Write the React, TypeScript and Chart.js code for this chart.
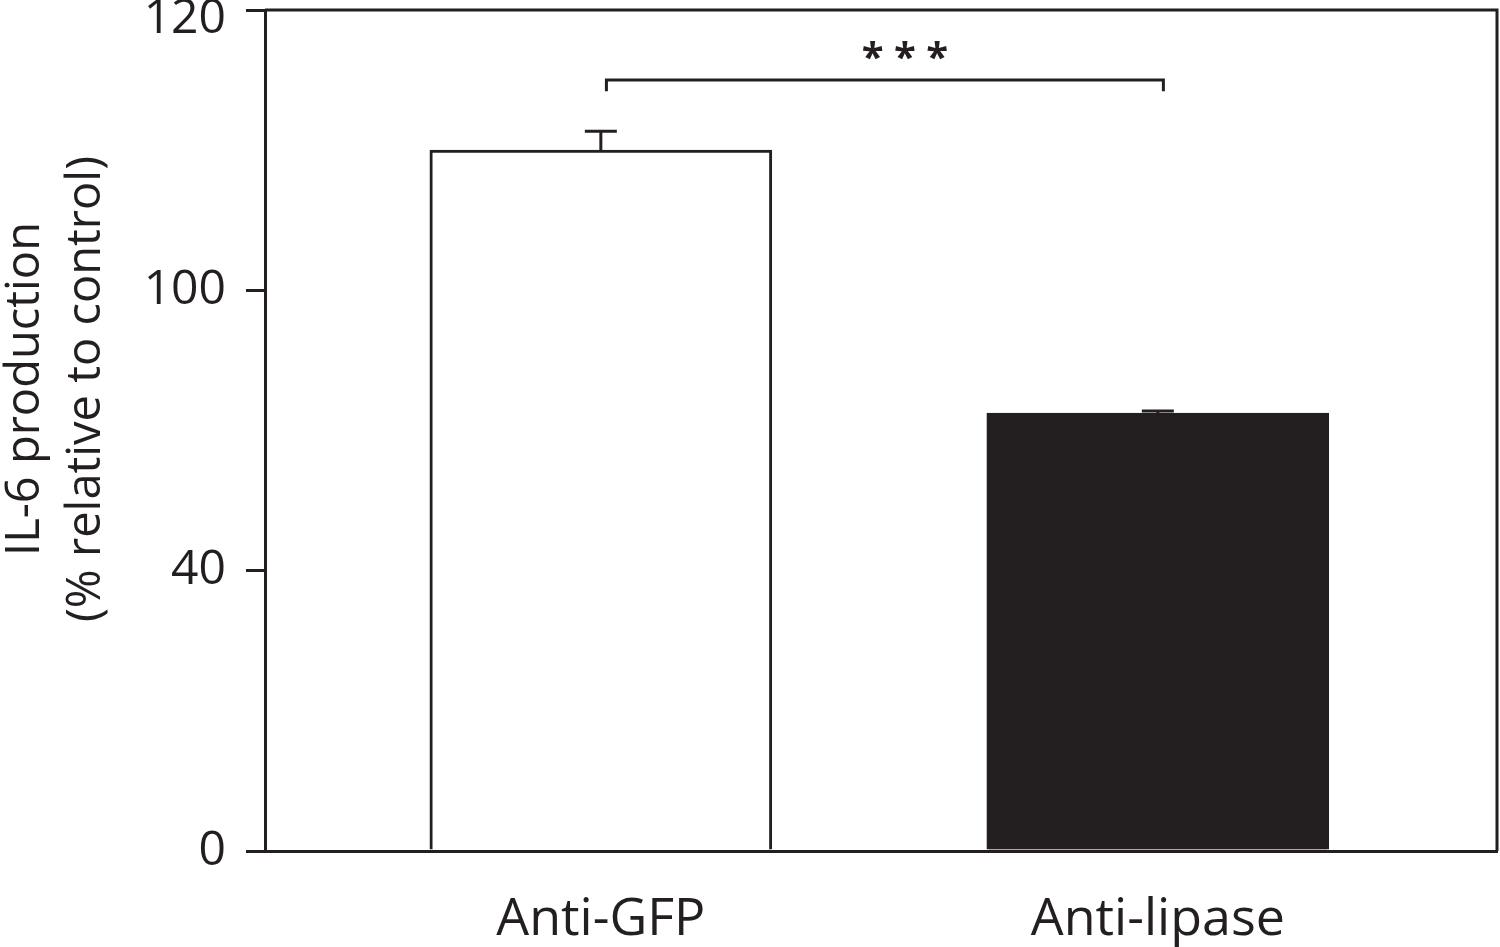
import React, { useEffect, useRef } from "react";
import { Chart, registerables } from "chart.js";

Chart.register(...registerables);

// ---- data ----
const CATEGORIES = ["Anti-GFP", "Anti-lipase"];
const CATEGORY_X = [0, 1];
const VALUES = [100, 62.5];
const ERRORS = [2.7, 0.3];
const Y_TICK_VALUES = [0, 40, 80, 120];
const Y_TICK_LABELS = ["0", "40", "100", "120"];
const Y_TITLE = ["IL-6 production", "(% relative to control)"];
const BRACKET_X = [0.01, 1.01];
const BRACKET_Y = [108.4, 110];
const STAR_X = 0.546;
const STAR_Y = 113.8;
const STAR_TEXT = "* * *";

const INK = "#231f20";
const FONT = "'Open Sans', 'DejaVu Sans', sans-serif";

const errorBarPlugin = {
  id: "errorBars",
  afterDatasetsDraw(chart: any) {
    const ctx = chart.ctx;
    const y = chart.scales.y;
    const meta = chart.getDatasetMeta(0);
    ctx.save();
    ctx.strokeStyle = INK;
    ctx.lineWidth = 3;
    meta.data.forEach((el: any, i: number) => {
      const top = y.getPixelForValue(VALUES[i] + ERRORS[i]);
      const base = y.getPixelForValue(VALUES[i]);
      ctx.beginPath();
      ctx.moveTo(el.x, base);
      ctx.lineTo(el.x, top);
      ctx.moveTo(el.x - 16, top);
      ctx.lineTo(el.x + 16, top);
      ctx.stroke();
    });
    ctx.restore();
  },
};

const annotationPlugin = {
  id: "annot",
  afterDraw(chart: any) {
    const ctx = chart.ctx;
    const xs = chart.scales.x;
    const ys = chart.scales.y;
    const a = chart.chartArea;
    ctx.save();
    ctx.strokeStyle = INK;
    ctx.lineWidth = 3;
    ctx.beginPath();
    ctx.moveTo(a.left, a.top);
    ctx.lineTo(a.right, a.top);
    ctx.lineTo(a.right, a.bottom);
    ctx.stroke();
    const x1 = xs.getPixelForValue(BRACKET_X[0]);
    const x2 = xs.getPixelForValue(BRACKET_X[1]);
    const yLow = ys.getPixelForValue(BRACKET_Y[0]);
    const yHigh = ys.getPixelForValue(BRACKET_Y[1]);
    ctx.beginPath();
    ctx.moveTo(x1, yLow);
    ctx.lineTo(x1, yHigh);
    ctx.lineTo(x2, yHigh);
    ctx.lineTo(x2, yLow);
    ctx.stroke();
    ctx.fillStyle = INK;
    ctx.font = `bold 40px ${FONT}`;
    ctx.textAlign = "center";
    ctx.textBaseline = "middle";
    ctx.fillText(STAR_TEXT, xs.getPixelForValue(STAR_X), ys.getPixelForValue(STAR_Y) + 6);
    ctx.font = `47px ${FONT}`;
    ctx.translate(0, 389);
    ctx.rotate(-Math.PI / 2);
    ctx.fillText(Y_TITLE[0], 0, 26);
    ctx.fillText(Y_TITLE[1], 0, 87);
    ctx.restore();
  },
};

export default function App() {
  const ref = useRef<HTMLCanvasElement>(null);
  useEffect(() => {
    document.body.style.margin = "0";
    const topTick = Y_TICK_VALUES[Y_TICK_VALUES.length - 1];
    const chart = new Chart(ref.current!, {
      type: "bar",
      data: {
        datasets: [
          {
            data: CATEGORY_X.map((x, i) => ({ x, y: VALUES[i] })),
            backgroundColor: ["#ffffff", INK],
            borderColor: INK,
            borderWidth: 3,
            borderSkipped: "bottom",
            barThickness: 342,
          },
        ],
      },
      options: {
        animation: false,
        responsive: true,
        maintainAspectRatio: false,
        layout: { padding: { top: 10, right: 3, left: 0, bottom: 0 } },
        plugins: { legend: { display: false }, tooltip: { enabled: false } },
        scales: {
          x: {
            type: "linear",
            offset: false,
            min: -0.603,
            max: 1.609,
            afterBuildTicks: (s: any) => {
              s.ticks = CATEGORY_X.map((v) => ({ value: v }));
            },
            afterFit: (s: any) => {
              s.height = 96;
              s.paddingLeft = 0;
              s.paddingRight = 0;
            },
            grid: { display: false, drawTicks: false },
            border: { display: true, color: INK, width: 3 },
            ticks: {
              color: INK,
              font: { family: FONT, size: 52 },
              padding: 38,
              maxRotation: 0,
              autoSkip: false,
              callback: (v: any) => CATEGORIES[CATEGORY_X.indexOf(Number(v))] ?? "",
            },
          },
          y: {
            min: 0,
            max: 120,
            afterBuildTicks: (s: any) => {
              s.ticks = Y_TICK_VALUES.map((v) => ({ value: v }));
            },
            afterFit: (s: any) => {
              s.width = 265;
              s.paddingTop = 0;
              s.paddingBottom = 0;
            },
            grid: {
              drawOnChartArea: false,
              drawTicks: true,
              tickLength: 19,
              color: INK,
              lineWidth: 3,
            },
            border: { display: true, color: INK, width: 3 },
            ticks: {
              color: INK,
              font: (c: any) =>
                c.tick && c.tick.value === topTick
                  ? { family: FONT, size: 48, lineHeight: 0.375 }
                  : { family: FONT, size: 48 },
              padding: 20,
              callback: (v: any) => {
                const lbl = Y_TICK_LABELS[Y_TICK_VALUES.indexOf(Number(v))] ?? "";
                return Number(v) === topTick ? ["", lbl] : lbl;
              },
            },
          },
        },
      },
      plugins: [errorBarPlugin, annotationPlugin],
    });
    return () => chart.destroy();
  }, []);
  return (
    <div style={{ width: 1500, height: 947, position: "relative", background: "#fff" }}>
      <canvas ref={ref} />
    </div>
  );
}
